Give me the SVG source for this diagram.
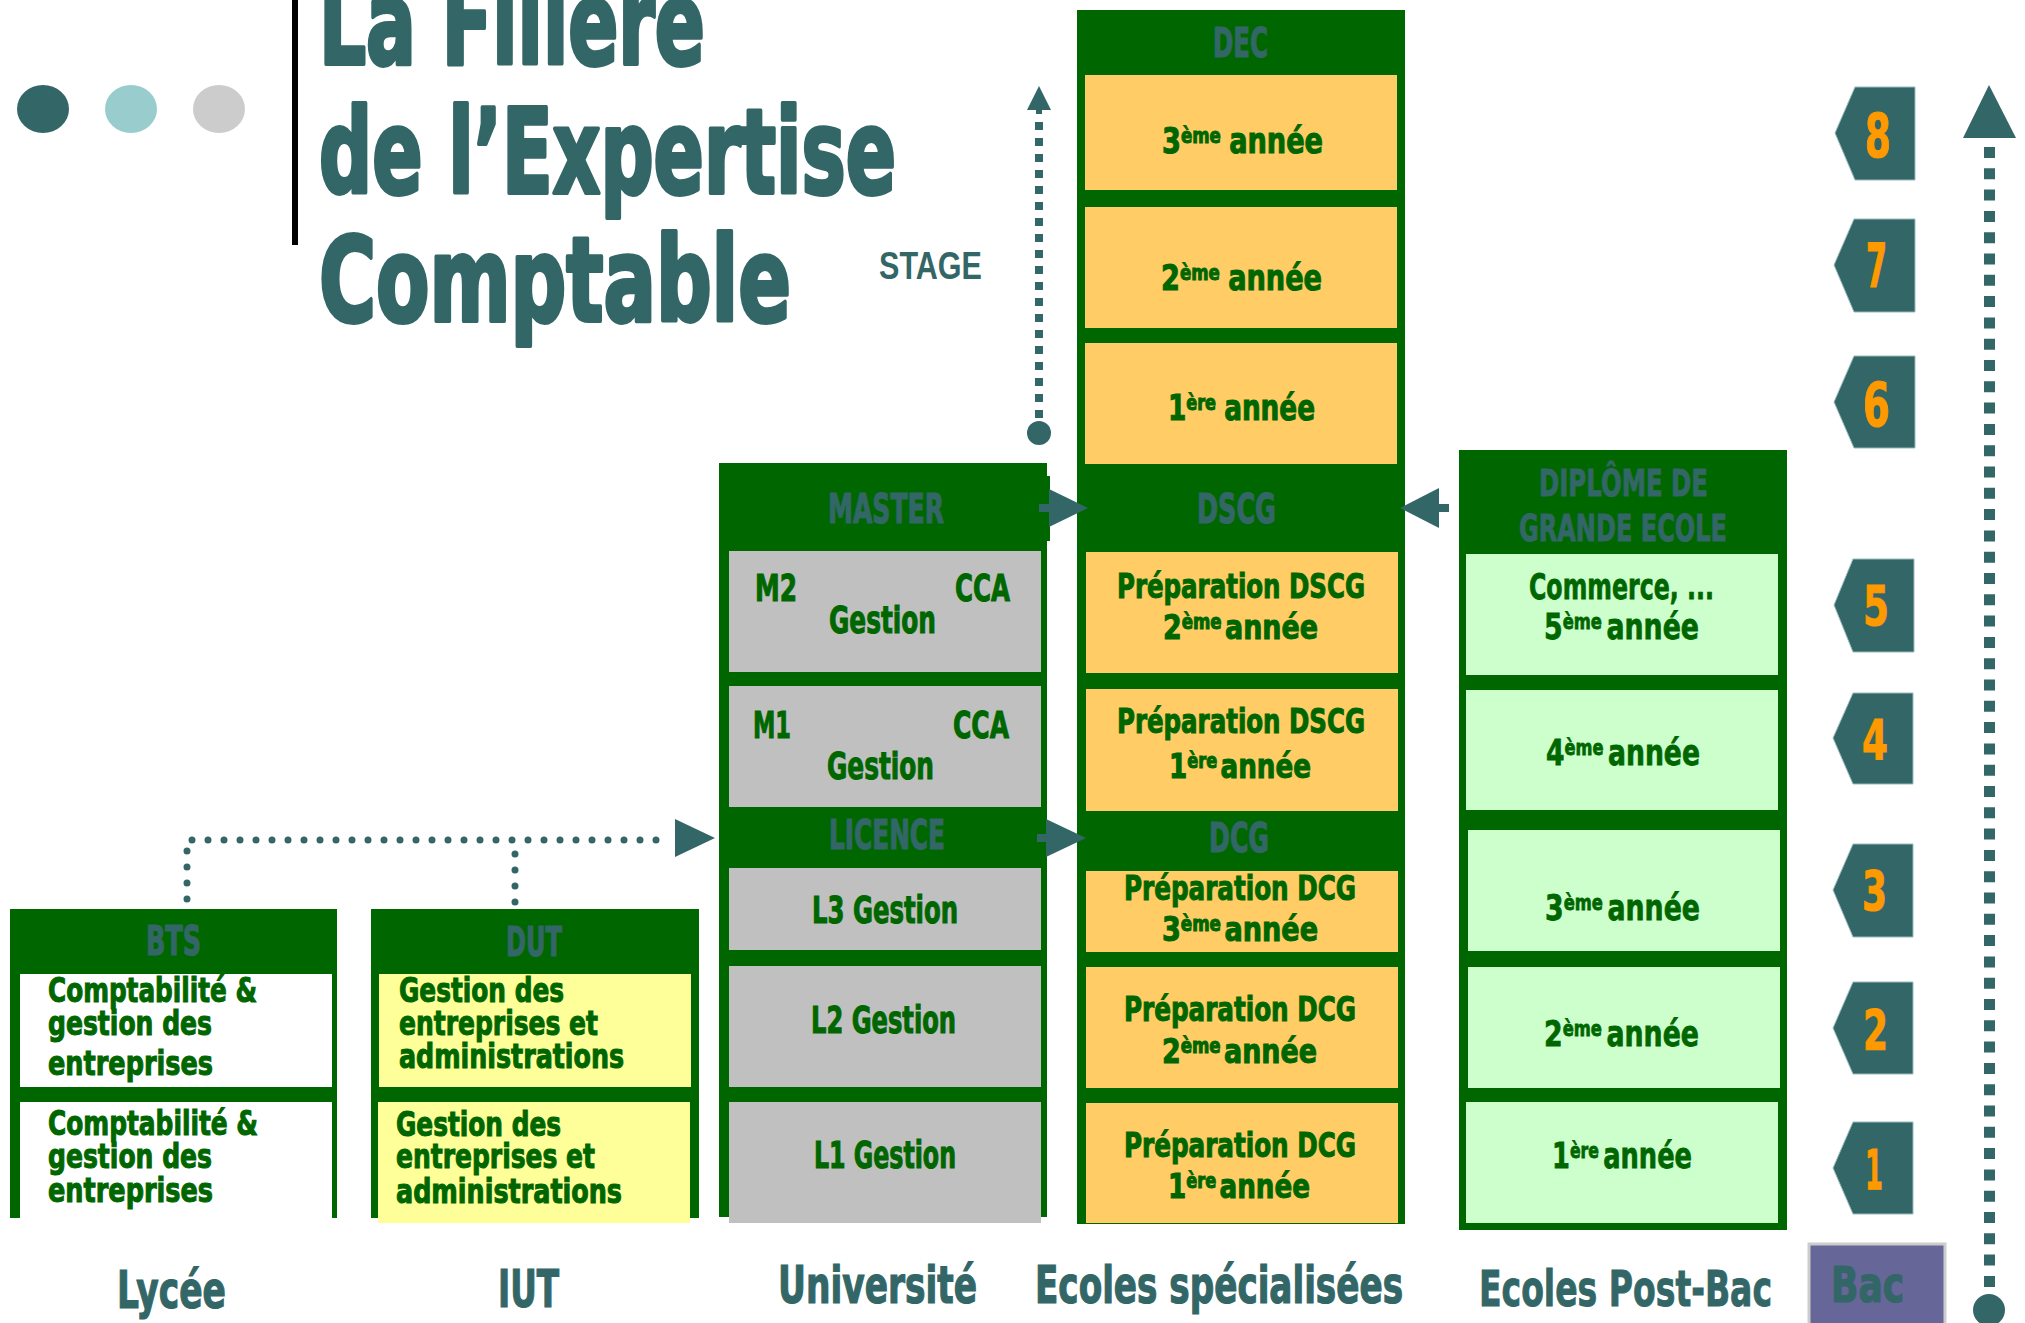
<svg xmlns="http://www.w3.org/2000/svg" width="2025" height="1323" viewBox="0 0 2025 1323">
<style>
.fr{fill:#006600}
.yl{fill:#FFCC66}
.ly{fill:#FFFF99}
.gy{fill:#C0C0C0}
.lg{fill:#CCFFCC}
.wh{fill:#FFFFFF}
.ti{font-family:'DejaVu Sans Condensed','DejaVu Sans',sans-serif;font-weight:bold;fill:#336666;stroke:#336666;stroke-width:4;stroke-linejoin:round}
.hd{font-family:'DejaVu Sans Condensed','DejaVu Sans',sans-serif;font-weight:bold;fill:#336666;stroke:#336666;stroke-width:1.2}
.ct{font-family:'DejaVu Sans Condensed','DejaVu Sans',sans-serif;font-weight:bold;fill:#006600;stroke:#006600;stroke-width:1}
.wd{font-family:'DejaVu Sans',sans-serif;font-weight:bold}
.wg{fill:#006600;stroke:#006600;stroke-width:0.8}
.wt{fill:#336666;stroke:#336666;stroke-width:1}
.num{fill:#FF9900;stroke:#FF9900}
.badge{fill:#336666;stroke:#99BBBB;stroke-width:1}
.tl{fill:#336666}
.dots{fill:none;stroke:#336666;stroke-width:7;stroke-linecap:round;stroke-dasharray:0 16}
</style>

<g id="decor">
<ellipse cx="43" cy="109" rx="26" ry="24" fill="#336666"/>
<ellipse cx="131" cy="109" rx="26" ry="24" fill="#99CCCC"/>
<ellipse cx="219" cy="109" rx="26" ry="24" fill="#CCCCCC"/>
<rect x="292" y="0" width="6" height="245" fill="#000000"/>
</g>

<g id="title">
<text class="ti" x="319" y="64" font-size="117" textLength="386" lengthAdjust="spacingAndGlyphs">La Filière</text>
<text class="ti" x="319" y="193" font-size="117" textLength="577" lengthAdjust="spacingAndGlyphs">de l’Expertise</text>
<text class="ti" x="319" y="321" font-size="117" textLength="472" lengthAdjust="spacingAndGlyphs">Comptable</text>
<text x="879" y="279" font-family="'Liberation Sans',sans-serif" font-weight="bold" font-size="38" fill="#336666" textLength="103" lengthAdjust="spacingAndGlyphs">STAGE</text>
</g>

<g id="bts">
<rect class="fr" x="10" y="909" width="327" height="309"/>
<rect class="wh" x="20" y="974" width="312" height="113"/>
<rect class="wh" x="20" y="1102" width="312" height="116"/>
<text class="hd" x="146" y="955" font-size="40" textLength="55" lengthAdjust="spacingAndGlyphs">BTS</text>
<text class="ct" x="48" y="1002" font-size="34" textLength="209" lengthAdjust="spacingAndGlyphs">Comptabilité &amp;</text>
<text class="ct" x="48" y="1035" font-size="34" textLength="164" lengthAdjust="spacingAndGlyphs">gestion des</text>
<text class="ct" x="48" y="1075" font-size="34" textLength="165" lengthAdjust="spacingAndGlyphs">entreprises</text>
<text class="ct" x="48" y="1135" font-size="34" textLength="210" lengthAdjust="spacingAndGlyphs">Comptabilité &amp;</text>
<text class="ct" x="48" y="1168" font-size="34" textLength="164" lengthAdjust="spacingAndGlyphs">gestion des</text>
<text class="ct" x="48" y="1202" font-size="34" textLength="165" lengthAdjust="spacingAndGlyphs">entreprises</text>
</g>

<g id="dut">
<rect class="fr" x="371" y="909" width="328" height="309"/>
<rect class="ly" x="379" y="974" width="312" height="113"/>
<rect class="ly" x="378" y="1102" width="312" height="121"/>
<text class="hd" x="506" y="956" font-size="40" textLength="56" lengthAdjust="spacingAndGlyphs">DUT</text>
<text class="ct" x="399" y="1002" font-size="34" textLength="165" lengthAdjust="spacingAndGlyphs">Gestion des</text>
<text class="ct" x="399" y="1035" font-size="34" textLength="199" lengthAdjust="spacingAndGlyphs">entreprises et</text>
<text class="ct" x="399" y="1068" font-size="34" textLength="225" lengthAdjust="spacingAndGlyphs">administrations</text>
<text class="ct" x="396" y="1136" font-size="34" textLength="165" lengthAdjust="spacingAndGlyphs">Gestion des</text>
<text class="ct" x="396" y="1168" font-size="34" textLength="199" lengthAdjust="spacingAndGlyphs">entreprises et</text>
<text class="ct" x="396" y="1203" font-size="34" textLength="226" lengthAdjust="spacingAndGlyphs">administrations</text>
</g>

<g id="universite">
<rect class="fr" x="719" y="463" width="328" height="754"/>
<rect class="fr" x="1045" y="476" width="5" height="65"/>
<rect class="gy" x="729" y="551" width="312" height="121"/>
<rect class="gy" x="729" y="686" width="312" height="121"/>
<rect class="gy" x="729" y="868" width="312" height="82"/>
<rect class="gy" x="729" y="966" width="312" height="121"/>
<rect class="gy" x="729" y="1102" width="312" height="121"/>
<text class="hd" x="828" y="523" font-size="41" textLength="116" lengthAdjust="spacingAndGlyphs">MASTER</text>
<text class="ct" x="755" y="601" font-size="38" textLength="42" lengthAdjust="spacingAndGlyphs">M2</text>
<text class="ct" x="955" y="601" font-size="38" textLength="55" lengthAdjust="spacingAndGlyphs">CCA</text>
<text class="ct" x="829" y="633" font-size="38" textLength="107" lengthAdjust="spacingAndGlyphs">Gestion</text>
<text class="ct" x="753" y="738" font-size="38" textLength="38" lengthAdjust="spacingAndGlyphs">M1</text>
<text class="ct" x="953" y="738" font-size="38" textLength="56" lengthAdjust="spacingAndGlyphs">CCA</text>
<text class="ct" x="827" y="779" font-size="38" textLength="107" lengthAdjust="spacingAndGlyphs">Gestion</text>
<text class="hd" x="829" y="849" font-size="41" textLength="116" lengthAdjust="spacingAndGlyphs">LICENCE</text>
<text class="ct" x="812" y="923" font-size="37" textLength="146" lengthAdjust="spacingAndGlyphs">L3 Gestion</text>
<text class="ct" x="811" y="1033" font-size="37" textLength="145" lengthAdjust="spacingAndGlyphs">L2 Gestion</text>
<text class="ct" x="814" y="1168" font-size="37" textLength="142" lengthAdjust="spacingAndGlyphs">L1 Gestion</text>
</g>

<g id="ecoles-specialisees">
<rect class="fr" x="1077" y="10" width="328" height="1214"/>
<rect class="yl" x="1085" y="75" width="312" height="115"/>
<rect class="yl" x="1085" y="207" width="312" height="121"/>
<rect class="yl" x="1085" y="343" width="312" height="121"/>
<rect class="yl" x="1086" y="552" width="312" height="121"/>
<rect class="yl" x="1086" y="689" width="312" height="122"/>
<rect class="yl" x="1086" y="871" width="312" height="81"/>
<rect class="yl" x="1086" y="967" width="312" height="121"/>
<rect class="yl" x="1086" y="1103" width="312" height="120"/>
<text class="hd" x="1213" y="57" font-size="41" textLength="55" lengthAdjust="spacingAndGlyphs">DEC</text>
<text class="ct" x="1162" y="153" font-size="36" textLength="161" lengthAdjust="spacingAndGlyphs">3<tspan font-size="22" dy="-10">ème</tspan><tspan dx="10" dy="10">année</tspan></text>
<text class="ct" x="1161" y="290" font-size="36" textLength="161" lengthAdjust="spacingAndGlyphs">2<tspan font-size="22" dy="-10">ème</tspan><tspan dx="10" dy="10">année</tspan></text>
<text class="ct" x="1168" y="420" font-size="36" textLength="147" lengthAdjust="spacingAndGlyphs">1<tspan font-size="22" dy="-10">ère</tspan><tspan dx="10" dy="10">année</tspan></text>
<text class="hd" x="1197" y="523" font-size="41" textLength="79" lengthAdjust="spacingAndGlyphs">DSCG</text>
<text class="ct" x="1117" y="598" font-size="34" textLength="248" lengthAdjust="spacingAndGlyphs">Préparation DSCG</text>
<text class="ct" x="1163" y="639" font-size="34" textLength="155" lengthAdjust="spacingAndGlyphs">2<tspan font-size="21" dy="-10">ème</tspan><tspan dx="4" dy="10">année</tspan></text>
<text class="ct" x="1117" y="733" font-size="34" textLength="248" lengthAdjust="spacingAndGlyphs">Préparation DSCG</text>
<text class="ct" x="1169" y="778" font-size="34" textLength="142" lengthAdjust="spacingAndGlyphs">1<tspan font-size="21" dy="-10">ère</tspan><tspan dx="4" dy="10">année</tspan></text>
<text class="hd" x="1209" y="852" font-size="41" textLength="60" lengthAdjust="spacingAndGlyphs">DCG</text>
<text class="ct" x="1124" y="900" font-size="34" textLength="232" lengthAdjust="spacingAndGlyphs">Préparation DCG</text>
<text class="ct" x="1162" y="941" font-size="34" textLength="156" lengthAdjust="spacingAndGlyphs">3<tspan font-size="21" dy="-10">ème</tspan><tspan dx="4" dy="10">année</tspan></text>
<text class="ct" x="1124" y="1021" font-size="34" textLength="232" lengthAdjust="spacingAndGlyphs">Préparation DCG</text>
<text class="ct" x="1162" y="1063" font-size="34" textLength="155" lengthAdjust="spacingAndGlyphs">2<tspan font-size="21" dy="-10">ème</tspan><tspan dx="4" dy="10">année</tspan></text>
<text class="ct" x="1124" y="1157" font-size="34" textLength="232" lengthAdjust="spacingAndGlyphs">Préparation DCG</text>
<text class="ct" x="1168" y="1198" font-size="34" textLength="142" lengthAdjust="spacingAndGlyphs">1<tspan font-size="21" dy="-10">ère</tspan><tspan dx="4" dy="10">année</tspan></text>
</g>

<g id="grande-ecole">
<rect class="fr" x="1459" y="450" width="328" height="780"/>
<rect class="lg" x="1466" y="554" width="312" height="121"/>
<rect class="lg" x="1466" y="690" width="312" height="120"/>
<rect class="lg" x="1468" y="830" width="312" height="121"/>
<rect class="lg" x="1468" y="967" width="312" height="121"/>
<rect class="lg" x="1466" y="1102" width="312" height="121"/>
<text class="wd wt" x="1539" y="496" font-size="37" textLength="169" lengthAdjust="spacingAndGlyphs">DIPLÔME DE</text>
<text class="wd wt" x="1519" y="541" font-size="37" textLength="208" lengthAdjust="spacingAndGlyphs">GRANDE ECOLE</text>
<text class="wd wg" x="1529" y="599" font-size="36" textLength="185" lengthAdjust="spacingAndGlyphs">Commerce, ...</text>
<text class="wd wg" x="1544" y="639" font-size="36" textLength="155" lengthAdjust="spacingAndGlyphs">5<tspan font-size="22" dy="-10">ème</tspan><tspan dx="6" dy="10">année</tspan></text>
<text class="wd wg" x="1546" y="765" font-size="36" textLength="154" lengthAdjust="spacingAndGlyphs">4<tspan font-size="22" dy="-10">ème</tspan><tspan dx="6" dy="10">année</tspan></text>
<text class="wd wg" x="1545" y="920" font-size="36" textLength="155" lengthAdjust="spacingAndGlyphs">3<tspan font-size="22" dy="-10">ème</tspan><tspan dx="6" dy="10">année</tspan></text>
<text class="wd wg" x="1544" y="1046" font-size="36" textLength="155" lengthAdjust="spacingAndGlyphs">2<tspan font-size="22" dy="-10">ème</tspan><tspan dx="6" dy="10">année</tspan></text>
<text class="wd wg" x="1552" y="1168" font-size="36" textLength="140" lengthAdjust="spacingAndGlyphs">1<tspan font-size="22" dy="-10">ère</tspan><tspan dx="6" dy="10">année</tspan></text>
</g>

<g id="labels">
<text class="hd" x="117" y="1308" font-size="52" textLength="109" lengthAdjust="spacingAndGlyphs" stroke-width="2">Lycée</text>
<text class="hd" x="498" y="1307" font-size="52" textLength="61" lengthAdjust="spacingAndGlyphs" stroke-width="2">IUT</text>
<text class="hd" x="778" y="1303" font-size="52" textLength="199" lengthAdjust="spacingAndGlyphs" stroke-width="2">Université</text>
<text class="hd" x="1035" y="1303" font-size="52" textLength="368" lengthAdjust="spacingAndGlyphs" stroke-width="2">Ecoles spécialisées</text>
<text class="wd wt" x="1479" y="1306" font-size="50" textLength="293" lengthAdjust="spacingAndGlyphs" stroke-width="1.5">Ecoles Post-Bac</text>
</g>

<g id="bac">
<rect x="1809" y="1244" width="136" height="90" fill="#666699" stroke="#CCCCCC" stroke-width="3"/>
<text class="hd" x="1831" y="1302" font-size="50" textLength="73" lengthAdjust="spacingAndGlyphs" stroke-width="2">Bac</text>
</g>

<g id="years">
<g id="year8"><polygon class="badge" points="1855,87 1915,87 1915,180 1855,180 1835,133"/><text class="hd num" x="1865" y="157" font-size="60" textLength="26" lengthAdjust="spacingAndGlyphs">8</text></g>
<g id="year7"><polygon class="badge" points="1854,219 1915,219 1915,312 1854,312 1834,265"/><text class="hd num" x="1866" y="287" font-size="60" textLength="21" lengthAdjust="spacingAndGlyphs">7</text></g>
<g id="year6"><polygon class="badge" points="1854,356 1915,356 1915,448 1854,448 1834,402"/><text class="hd num" x="1863" y="426" font-size="60" textLength="27" lengthAdjust="spacingAndGlyphs">6</text></g>
<g id="year5"><polygon class="badge" points="1853,559 1914,559 1914,652 1853,652 1834,605"/><text class="wd num" x="1863" y="625" font-size="55" textLength="26" lengthAdjust="spacingAndGlyphs">5</text></g>
<g id="year4"><polygon class="badge" points="1853,693 1913,693 1913,784 1853,784 1833,738"/><text class="wd num" x="1862" y="759" font-size="55" textLength="26" lengthAdjust="spacingAndGlyphs">4</text></g>
<g id="year3"><polygon class="badge" points="1853,844 1913,844 1913,937 1853,937 1833,890"/><text class="wd num" x="1862" y="910" font-size="55" textLength="25" lengthAdjust="spacingAndGlyphs">3</text></g>
<g id="year2"><polygon class="badge" points="1853,982 1913,982 1913,1074 1853,1074 1833,1028"/><text class="wd num" x="1863" y="1049" font-size="55" textLength="25" lengthAdjust="spacingAndGlyphs">2</text></g>
<g id="year1"><polygon class="badge" points="1853,1122 1913,1122 1913,1214 1853,1214 1833,1168"/><text class="wd num" x="1865" y="1189" font-size="55" textLength="18" lengthAdjust="spacingAndGlyphs">1</text></g>
</g>

<g id="connectors">
<path class="dots" d="M187 899 V840 H670"/>
<path class="dots" d="M515 902 V840"/>
<polygon class="tl" points="675,819 715,838 675,857"/>
<line x1="1039" y1="418" x2="1039" y2="114" stroke="#336666" stroke-width="8" stroke-dasharray="8 8"/>
<rect class="tl" x="1036" y="104" width="6" height="10"/>
<polygon class="tl" points="1039,86 1051,110 1027,110"/>
<circle class="tl" cx="1039" cy="433" r="12"/>
<rect class="tl" x="1039" y="504" width="11" height="8"/>
<polygon class="tl" points="1049,489 1088,508 1049,527"/>
<rect class="tl" x="1037" y="834" width="10" height="8"/>
<polygon class="tl" points="1046,819 1086,838 1046,857"/>
<polygon class="tl" points="1400,508 1439,488 1439,528"/>
<rect class="tl" x="1438" y="504" width="11" height="8"/>
<line x1="1989.5" y1="147" x2="1989.5" y2="1290" stroke="#336666" stroke-width="11" stroke-dasharray="11 10.3"/>
<polygon class="tl" points="1989,85 2016,138 1963,138"/>
<circle class="tl" cx="1989" cy="1310" r="16"/>
</g>
</svg>
